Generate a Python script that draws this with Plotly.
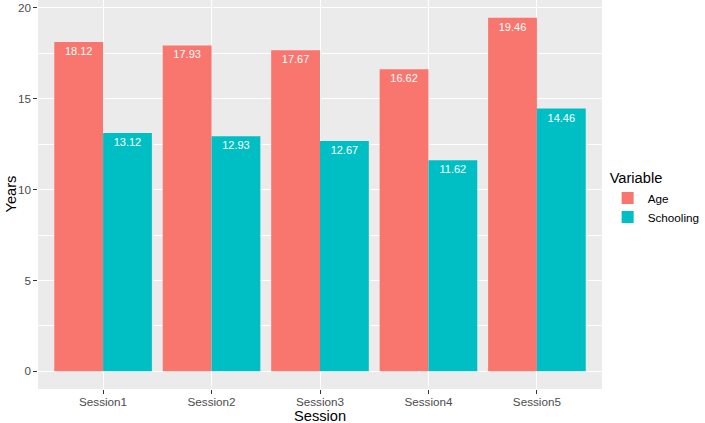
import plotly.graph_objects as go

sessions = ["Session1", "Session2", "Session3", "Session4", "Session5"]
age = [18.12, 17.93, 17.67, 16.62, 19.46]
schooling = [13.12, 12.93, 12.67, 11.62, 14.46]
y_ticks = [0, 5, 10, 15, 20]

FONT = "Liberation Sans, Arial, sans-serif"

fig = go.Figure()
for name, vals, col in [("Age", age, "#F8766D"), ("Schooling", schooling, "#00BFC4")]:
    fig.add_trace(go.Bar(
        x=sessions, y=vals, name=name, marker=dict(color=col, line=dict(width=0)),
        text=[f"{v:.2f}" for v in vals], textposition="inside", insidetextanchor="end",
        textangle=0, constraintext="none",
        textfont=dict(color="white", size=11, family=FONT),
    ))

ymax = max(age + schooling)
pad = 0.05 * ymax
fig.update_layout(
    width=705, height=423,
    margin=dict(l=38, r=101, t=0, b=34),
    paper_bgcolor="white", plot_bgcolor="#EBEBEB",
    barmode="group", bargap=0.1, bargroupgap=0,
    font=dict(family=FONT, color="#4D4D4D", size=11.7),
    legend=dict(
        title=dict(text="Variable", font=dict(size=14.67, color="black")),
        font=dict(size=11.7, color="black"),
        x=1.01, xanchor="left", y=0.49, yanchor="middle",
        tracegroupgap=0, itemwidth=30, bgcolor="rgba(0,0,0,0)",
    ),
    xaxis=dict(
        automargin=False,
        showgrid=True, gridcolor="white", gridwidth=1.07,
        ticks="outside", ticklen=3.67, tickcolor="#333333", tickwidth=1.07,
        ticklabelstandoff=-2,
        range=[-0.6, 4.6], zeroline=False,
    ),
    yaxis=dict(
        automargin=False,
        range=[-pad, ymax + pad], tickvals=y_ticks,
        showgrid=True, gridcolor="white", gridwidth=1.07,
        minor=dict(dtick=2.5, tick0=0, showgrid=True, gridcolor="white", gridwidth=0.53, ticks=""),
        ticks="outside", ticklen=3.67, tickcolor="#333333", tickwidth=1.07,
        zeroline=False,
    ),
    annotations=[
        dict(text="Session", xref="paper", yref="paper", x=0.5, y=0, yshift=-27,
             xanchor="center", yanchor="middle", showarrow=False,
             font=dict(size=14.67, color="black", family=FONT)),
        dict(text="Years", xref="paper", yref="paper", x=0, xshift=-28, y=0.5,
             xanchor="center", yanchor="middle", showarrow=False, textangle=-90,
             font=dict(size=14.67, color="black", family=FONT)),
    ],
)
fig.write_html("out.html", config={"displayModeBar": False},
               post_script="document.body.style.margin='0';")
